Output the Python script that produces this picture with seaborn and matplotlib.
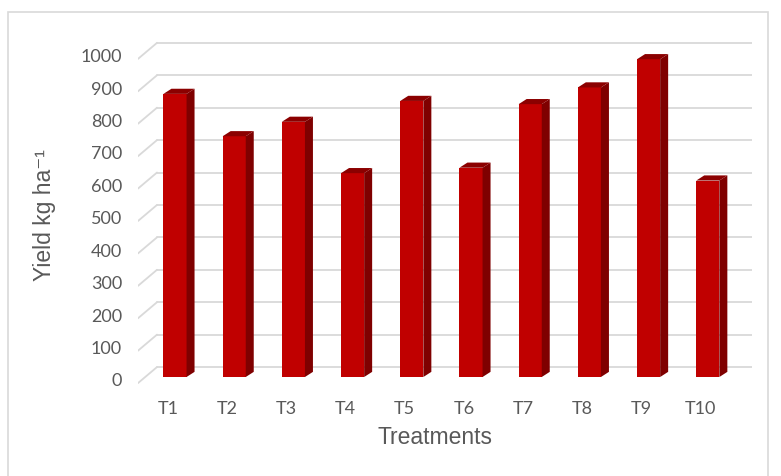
import numpy as np
import pandas as pd
import matplotlib
matplotlib.use("Agg")
import matplotlib.pyplot as plt
import seaborn as sns
from matplotlib.patches import Rectangle

treatments = ["T1", "T2", "T3", "T4", "T5", "T6", "T7", "T8", "T9", "T10"]
yield_kg = [882, 750, 795, 635, 860, 652, 850, 902, 990, 612]
yticks = [0, 100, 200, 300, 400, 500, 600, 700, 800, 900, 1000]

df = pd.DataFrame({"Treatment": treatments, "Yield": yield_kg})

sns.set_theme(style="white")
plt.rcParams["font.family"] = ["Lato", "DejaVu Sans"]

W, H = 781, 476
fig = plt.figure(figsize=(W / 100, H / 100), dpi=100)

# pixel geometry of the excel-style 3d plot
x0, step = 175, 59.2      # px of T1 centre, px between bars
y0, scale = 377, 0.321    # px of zero on bar front, px per unit
left_px, right_px = 138, 752
ylo, yhi = -30, 1060
bot_px = y0 - scale * ylo
top_px = y0 - scale * yhi
ax = fig.add_axes([left_px / W, (H - bot_px) / H,
                   (right_px - left_px) / W, (bot_px - top_px) / H])
xl = (left_px - x0) / step
xr = (right_px - x0) / step

sns.barplot(data=df, x="Treatment", y="Yield", color="#c00000", width=0.39,
            saturation=1, linewidth=0, ax=ax, zorder=3)
ax.set_xlim(xl, xr)
ax.set_ylim(ylo, yhi)

# perspective gridlines (back wall + left floor diagonal)
back_dx, back_dy = 19 / step, 31
front_dy = -19
grid_c = "#d9d9d9"
for v in yticks:
    yb = v * 1.01 + back_dy
    yf = v * 1.01 + front_dy
    ax.plot([xl + back_dx, xr], [yb, yb], color=grid_c, lw=1.3, zorder=0)
    ax.plot([xl, xl + back_dx], [yf, yb], color=grid_c, lw=1.3, zorder=0)

# side and top faces for the 3d look
dx, dy = 8 / step, 16
for p in ax.patches:
    x, w, h = p.get_x(), p.get_width(), p.get_height()
    ax.fill([x + w, x + w + dx, x + w + dx, x + w], [0, dy, h + dy, h],
            color="#7f0000", zorder=3, lw=0)
    ax.fill([x, x + dx, x + w + dx, x + w], [h, h + dy, h + dy, h],
            color="#8b0000", zorder=3, lw=0)

for s in ax.spines.values():
    s.set_visible(False)
ax.grid(False)
ax.set_yticks([v * 1.01 - 9 for v in yticks])
ax.set_yticklabels([str(v) for v in yticks])
ax.set_xticks(np.arange(len(treatments)) - 0.12)
ax.set_xticklabels(treatments)
ax.tick_params(axis="y", length=0, pad=11.5, labelsize=13, labelcolor="#595959")
ax.tick_params(axis="x", length=0, pad=10, labelsize=13, labelcolor="#595959")
ax.set_xlabel("")
ax.set_ylabel("")

fig.text(435 / W, 1 - 438 / H, "Treatments", ha="center", va="center",
         fontsize=16.5, color="#595959", family="Liberation Sans")
fig.text(45 / W, 1 - 215 / H, "Yield kg ha\u207b\u00b9", ha="center", va="center",
         rotation=90, fontsize=16.5, color="#595959",
         family=["Liberation Sans", "DejaVu Sans"])

fig.patches.append(Rectangle((8 / W, -0.01), 760 / W, 1 - 12 / H + 0.01,
                             transform=fig.transFigure, fill=False,
                             edgecolor="#d9d9d9", lw=1.2))

fig.savefig("out.png", dpi=100)
